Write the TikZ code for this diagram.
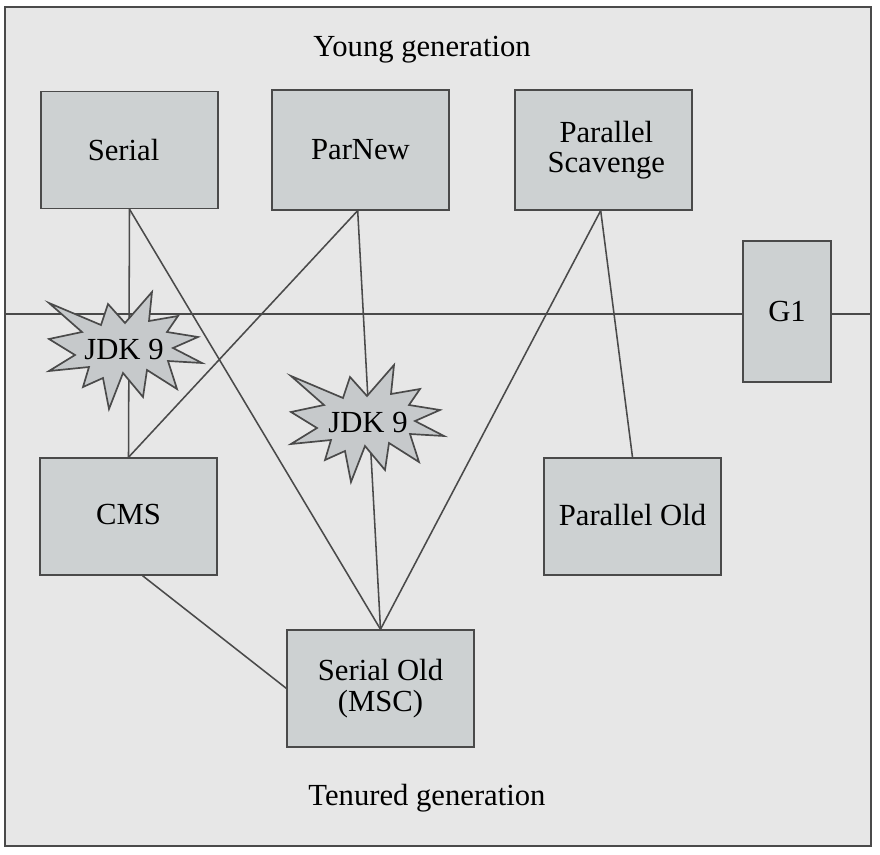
\documentclass[tikz,border=0pt]{standalone}
\usepackage{fontspec}
\setmainfont{Liberation Serif}
\usetikzlibrary{calc}

\definecolor{panelgray}{HTML}{E7E7E7}
\definecolor{boxgray}{HTML}{CDD1D2}
\definecolor{burstgray}{HTML}{C6C9CB}
\definecolor{linegray}{HTML}{4A4A4A}

\tikzset{
	gcbox/.style={draw=linegray,fill=boxgray,line width=1.2pt,align=center,inner sep=0pt,
		font=\fontsize{21.8}{21.8}\selectfont,minimum width=125.5pt,minimum height=83pt},
	gctext/.style={font=\fontsize{21.8}{21.8}\selectfont,inner sep=0pt},
	gcline/.style={draw=linegray,line width=1.1pt},
	burst/.pic={
		\draw[draw=linegray,fill=burstgray,line width=1.2pt,line join=miter]
			(-75,-46)--(-23,-24)--(-16,-45)--(1,-26)--(28,-57)--(25,-28)--(54,-33)--(43,-17)
			--(74,-12)--(49,-1)--(78,14)--(44,12)--(53,40)--(23,21)--(19,48)--(-1,24)
			--(-15,60)--(-21,29)--(-41,38)--(-35,18)--(-75,22)--(-49,6)--(-75,-10)--(-42,-17)--cycle;
	}
}

\begin{document}
\begin{tikzpicture}[x=0.025cm,y=-0.025cm]

\useasboundingbox (0,0) rectangle (880,854);

\node[draw=linegray,fill=panelgray,line width=1.2pt,inner sep=0pt,minimum width=866*0.025cm,minimum height=839*0.025cm] (frame) at (438,426.5) {};

\node[gctext] (young) at (422,50) {Young generation};
\node[gctext] (tenured) at (427,798) {Tenured generation};

\node[gcbox] (serial) at (129.5,150) {Serial\hspace*{8.5pt}};
\node[gcbox,minimum height=85pt] (parnew) at (360.5,150) {ParNew};
\node[gcbox,minimum height=85pt] (scavenge) at (603.5,150) {\hspace*{4pt}Parallel\\\hspace*{4pt}Scavenge};
\node[gcbox,minimum width=62.5pt,minimum height=100pt] (gone) at (787,311.5) {G1};
\node[gcbox] (cms) at (128.5,516.5) {\raisebox{3pt}{CMS}};
\node[gcbox] (parold) at (632.5,516.5) {\raisebox{2pt}{Parallel Old}};
\node[gcbox,minimum width=132.5pt] (serold) at (380.5,688.5) {Serial Old\\(MSC)};

\coordinate (L) at ([yshift=-1.8pt]frame.west |- gone.west);
\coordinate (R) at ([yshift=-1.8pt]frame.east |- gone.east);
\coordinate (Lg) at ([yshift=-1.8pt]gone.west);
\coordinate (Rg) at ([yshift=-1.8pt]gone.east);

\draw[gcline] (L)--(Lg);
\draw[gcline] (Rg)--(R);

\draw[gcline] (serial.south)--(cms.north);
\draw[gcline] (serial.south)--(serold.north);
\draw[gcline] ([xshift=-2pt]parnew.south)--(cms.north);
\draw[gcline] ([xshift=-2pt]parnew.south)--(serold.north);
\draw[gcline] ([xshift=-2pt]scavenge.south)--(serold.north);
\draw[gcline] ([xshift=-2pt]scavenge.south)--(parold.north);
\draw[gcline] ([xshift=10pt]cms.south)--(serold.west);

\pic at (124,349) {burst};
\pic at (366,422) {burst};

\node[gctext] (jdka) at (124,349) {JDK 9};
\node[gctext] (jdkb) at (368,422) {JDK 9};

\end{tikzpicture}
\end{document}
